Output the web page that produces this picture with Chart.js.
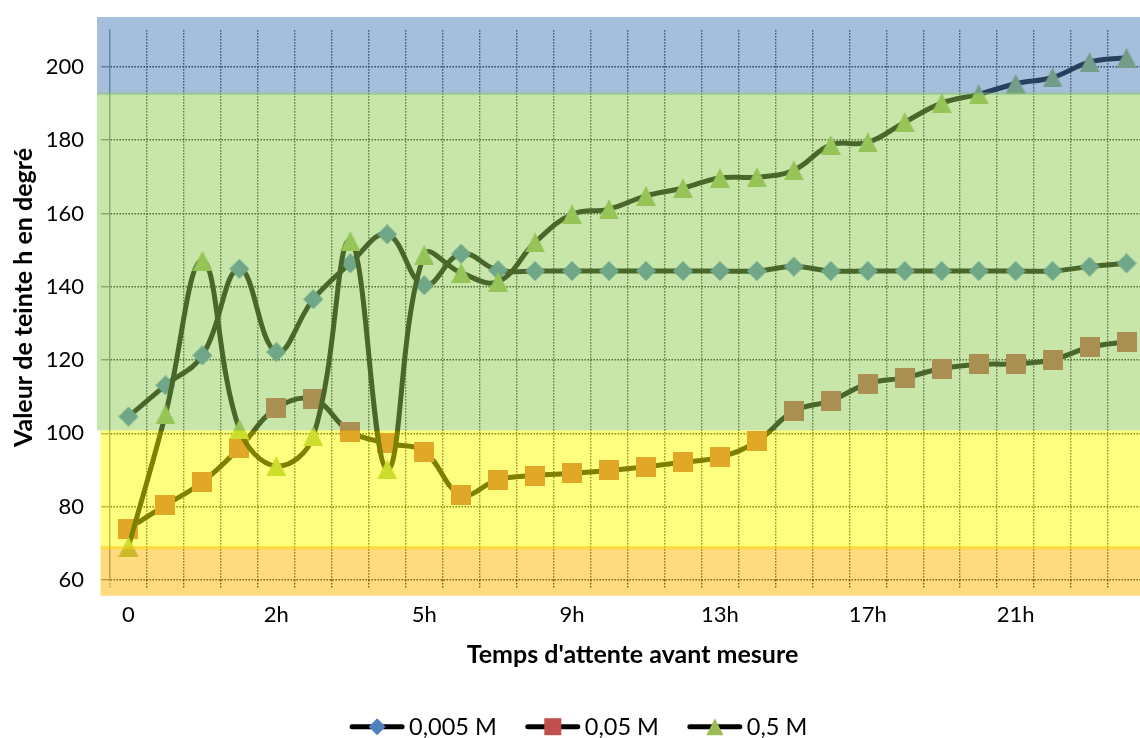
<!DOCTYPE html>
<html>
<head>
<meta charset="utf-8">
<script src="https://cdn.jsdelivr.net/npm/chart.js@4.4.1/dist/chart.umd.min.js"></script>
<style>
  html, body { margin: 0; padding: 0; background: #fff; overflow: hidden; }
  canvas { display: block; }
</style>
</head>
<body>
<canvas id="chart" width="1160" height="738"></canvas>
<script>
// Time axis: 28 readings, every 4th one carries a label
const timeLabels = ['0', '2h', '5h', '9h', '13h', '17h', '21h'];
const labelEvery = 4;
const pointCount = 28;

// Hue angle h (degrees) for each concentration
const seriesNames = ['0,005 M', '0,05 M', '0,5 M'];
const hue0005 = [104.6, 113.1, 121.3, 144.9, 122.2, 136.6, 146.4, 154.3, 140.4, 149.0,
                 144.5, 144.3, 144.3, 144.3, 144.3, 144.3, 144.3, 144.3, 145.5, 144.3,
                 144.3, 144.3, 144.3, 144.3, 144.3, 144.3, 145.5, 146.4];
const hue005  = [74.0, 80.4, 86.7, 96.0, 106.9, 109.3, 100.4, 97.3, 95.0, 83.3,
                 87.4, 88.5, 89.1, 89.9, 90.9, 92.1, 93.5, 97.8, 106.1, 108.9,
                 113.6, 115.2, 117.7, 118.8, 119.0, 120.1, 123.5, 125.0];
const hue05   = [69.1, 105.2, 147.1, 101.2, 91.1, 99.3, 152.5, 90.2, 148.7, 143.8,
                 141.4, 152.1, 159.8, 161.2, 164.8, 166.9, 169.7, 169.9, 171.8, 178.7,
                 179.4, 184.9, 190.1, 192.5, 195.4, 197.1, 201.3, 202.5];

// Colour zones laid over the plot (hue ranges, in degrees)
const zoneFrom  = [192.4, 100.8, 68.4, 55.7];
const zoneTo    = [213.6, 193.0, 100.8, 69.2];
const zoneFill  = ['rgba(75,125,185,0.5)', 'rgba(145,205,85,0.5)',
                   'rgba(255,255,0,0.5)', 'rgba(255,181,0,0.5)'];
const zoneInset = [13, 13, 9.5, 9.5];

const seriesColors = ['#4F81BD', '#C0504D', '#9BBB59'];
const seriesShapes = ['diamond', 'square', 'triangle'];

const categories = Array.from({ length: pointCount }, (_, i) =>
  i % labelEvery === 0 ? (timeLabels[i / labelEvery] ?? '') : '');

const FONT = 'Lato';
const tickFontSize = 22;
const titleFontSize = 25;
const legendFontSize = 23.5;

function shapePath(g, shape, cx, cy, size) {
  const h = size / 2;
  g.beginPath();
  if (shape === 'diamond') {
    g.moveTo(cx, cy - h); g.lineTo(cx + h, cy); g.lineTo(cx, cy + h); g.lineTo(cx - h, cy);
  } else if (shape === 'square') {
    g.rect(cx - h, cy - h, size, size);
  } else {
    g.moveTo(cx, cy - h); g.lineTo(cx + h, cy + h); g.lineTo(cx - h, cy + h);
  }
  g.closePath();
}

function markerCanvas(shape, size, color) {
  const c = document.createElement('canvas');
  c.width = size; c.height = size;
  const g = c.getContext('2d');
  g.fillStyle = color;
  shapePath(g, shape, size / 2, size / 2, size);
  g.fill();
  return c;
}

// Translucent colour zones drawn over the series
const zonePlugin = {
  id: 'hueZones',
  afterDatasetsDraw(chart) {
    const { ctx, chartArea, scales: { y } } = chart;
    ctx.save();
    for (let i = 0; i < zoneFrom.length; i++) {
      const top = y.getPixelForValue(zoneTo[i]);
      const bottom = y.getPixelForValue(zoneFrom[i]);
      const left = chartArea.left - zoneInset[i];
      ctx.fillStyle = zoneFill[i];
      ctx.fillRect(left, top, chart.width - left, bottom - top);
    }
    ctx.restore();
  }
};

// Axis titles and the line+marker legend
const textPlugin = {
  id: 'titlesLegend',
  afterDraw(chart) {
    const ctx = chart.ctx;
    ctx.save();
    ctx.fillStyle = '#000';
    ctx.font = `bold ${titleFontSize}px ${FONT}`;
    ctx.textAlign = 'center';
    ctx.textBaseline = 'alphabetic';
    ctx.fillText("Temps d'attente avant mesure", 632.5, 662.7);

    ctx.save();
    ctx.translate(31.7, 297.5);
    ctx.rotate(-Math.PI / 2);
    ctx.fillText('Valeur de teinte h en degré', 0, 0);
    ctx.restore();

    // legend
    ctx.font = `${legendFontSize}px ${FONT}`;
    ctx.textAlign = 'left';
    ctx.textBaseline = 'middle';
    const lineLen = 54, textGap = 5, itemGap = 29, cy = 726.7, centerX = 578.7;
    const widths = seriesNames.map(n => ctx.measureText(n).width);
    const total = widths.reduce((s, w) => s + lineLen + textGap + w, 0) + itemGap * (seriesNames.length - 1);
    let x = centerX - total / 2;
    seriesNames.forEach((name, i) => {
      ctx.strokeStyle = '#000';
      ctx.lineWidth = 5;
      ctx.lineCap = 'round';
      ctx.beginPath();
      ctx.moveTo(x + 2, cy);
      ctx.lineTo(x + lineLen - 2, cy);
      ctx.stroke();
      ctx.fillStyle = seriesColors[i];
      shapePath(ctx, seriesShapes[i], x + lineLen / 2, cy, 17);
      ctx.fill();
      ctx.fillStyle = '#000';
      ctx.fillText(name, x + lineLen + textGap, cy + 1);
      x += lineLen + textGap + widths[i] + itemGap;
    });
    ctx.restore();
  }
};

function build() {
  const seriesData = [hue0005, hue005, hue05];
  const datasets = seriesData.map((d, i) => ({
    label: seriesNames[i],
    data: d,
    borderColor: '#000',
    borderWidth: 5,
    tension: 0.4,
    fill: false,
    pointStyle: markerCanvas(seriesShapes[i], 20, seriesColors[i]),
    pointRadius: 10,
    order: seriesData.length - i
  }));

  new Chart(document.getElementById('chart'), {
    type: 'line',
    data: { labels: categories, datasets },
    options: {
      responsive: false,
      devicePixelRatio: 1,
      animation: false,
      events: [],
      layout: { padding: { left: 0, top: 28.3, right: 1160 - 1150.2, bottom: 0 } },
      plugins: { legend: { display: false }, tooltip: { enabled: false }, title: { display: false } },
      scales: {
        x: {
          type: 'category',
          offset: true,
          afterFit(s) { s.height = 158; },
          grid: {
            offset: true,
            color: '#000',
            lineWidth: c => (c.index === 0 ? 0 : 1.4),
            borderDash: [1.4, 1.6],
            tickLength: 8,
            tickColor: c => (c.index === 0 ? '#868686' : '#000'),
            tickWidth: 1.4,
            tickBorderDash: [1.4, 1.6]
          },
          border: { display: false, dash: [1.4, 1.6] },
          ticks: {
            autoSkip: false,
            maxRotation: 0,
            padding: 14,
            color: '#000',
            font: { family: FONT, size: tickFontSize }
          }
        },
        y: {
          min: 60,
          max: 210,
          afterFit(s) { s.width = 110; },
          grid: {
            color: '#000',
            lineWidth: 1.4,
            borderDash: [1.4, 1.6],
            tickLength: 9,
            tickColor: '#868686',
            tickWidth: 1.5,
            tickBorderDash: []
          },
          border: { display: true, color: '#868686', width: 1.5, dash: [1.4, 1.6] },
          ticks: {
            stepSize: 20,
            includeBounds: false,
            padding: 17,
            color: '#000',
            font: { family: FONT, size: tickFontSize }
          }
        }
      }
    },
    plugins: [zonePlugin, textPlugin]
  });
}

const fontLoads = [
  `${tickFontSize}px ${FONT}`, `bold ${titleFontSize}px ${FONT}`
].map(f => document.fonts.load(f).catch(() => null));
Promise.all(fontLoads).then(build, build);
</script>
</body>
</html>
